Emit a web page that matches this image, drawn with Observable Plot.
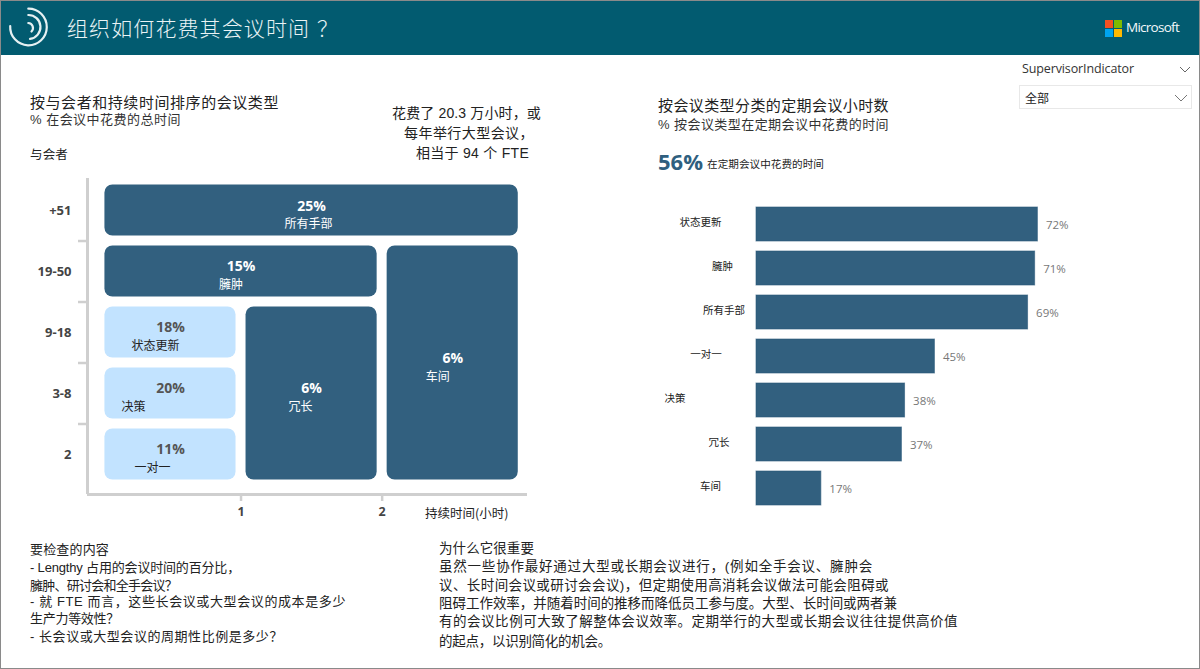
<!DOCTYPE html>
<html lang="zh">
<head>
<meta charset="utf-8">
<script src="https://cdn.jsdelivr.net/npm/d3@7"></script>
<script src="https://cdn.jsdelivr.net/npm/@observablehq/plot@0.6"></script>
<style>
  html, body { margin: 0; padding: 0; background: #fff; }
  #page { position: relative; width: 1200px; height: 669px; overflow: hidden; background: #fff;
    font-family: "Liberation Sans", "Noto Sans CJK SC", sans-serif; color: #222; box-sizing: border-box; }
  .t { position: absolute; white-space: pre; line-height: 1; transform: translateY(-50%); }
  .t .q { font-family: "Noto Sans CJK TC", sans-serif; }
  #border { position: absolute; inset: 0; border: 1px solid #8a8a8a; box-sizing: border-box; pointer-events: none; }
  #header { position: absolute; left: 0; top: 0; width: 1200px; height: 55px; background: #025b70; }
  .ms { position: absolute; width: 8px; height: 8px; }
  #filter { position: absolute; left: 1019px; top: 85px; width: 173px; height: 24px; border: 1px solid #e8e8e8; box-sizing: border-box; }
</style>
</head>
<body>
<div id="page">
  <div id="header"></div>
  <div id="filter"></div>
  <div id="border"></div>
</div>
<script>
// ---------- data: meeting mosaic ----------
const cellTypes   = ["所有手部", "臃肿", "车间", "状态更新", "决策", "一对一", "冗长"];
const cellShare   = [25, 15, 6, 18, 20, 11, 6];
const cellDurFrom = [0, 0, 2, 0, 0, 0, 1];
const cellDurTo   = [3, 2, 3, 1, 1, 1, 2];
const cellRowFrom = [4, 3, 0, 2, 1, 0, 0];
const cellRowTo   = [5, 4, 4, 3, 2, 1, 3];
const cellLight   = [false, false, false, true, true, true, false];
const rowLabels   = ["2", "3-8", "9-18", "19-50", "+51"];
const durationTicks = [1, 2];

// ---------- data: regular meetings ----------
const barTypes = ["状态更新", "臃肿", "所有手部", "一对一", "决策", "冗长", "车间"];
const barShare = [71.6, 70.9, 69.1, 45.4, 37.8, 37, 16.5];

// ---------- texts ----------
const titleText = "组织如何花费其会议时间？";
const calloutLines = ["花费了 20.3 万小时，或", "每年举行大型会议，", "相当于 94 个 FTE"];
const checkLines = ["要检查的内容", "- Lengthy 占用的会议时间的百分比，", "臃肿、研讨会和全手会议？",
  "- 就 FTE 而言，这些长会议或大型会议的成本是多少", "生产力等效性？", "- 长会议或大型会议的周期性比例是多少？"];
const whyLines = ["为什么它很重要", "虽然一些协作最好通过大型或长期会议进行，(例如全手会议、臃肿会",
  "议、长时间会议或研讨会会议)，但定期使用高消耗会议做法可能会阻碍或",
  "阻碍工作效率，并随着时间的推移而降低员工参与度。大型、长时间或两者兼",
  "有的会议比例可大致了解整体会议效率。定期举行的大型或长期会议往往提供高价值",
  "的起点，以识别简化的机会。"];

// ---------- layout only (pixel nudges reproducing the reference's off-centre labels) ----------
const cellLabelNudge = [-3, -10, -15, -15, -37, -18, -11];
const barLabelNudge  = [-56, -34, -32.5, -50.5, -81.5, -37.5, -46];

const page = document.getElementById("page");
const FONT = '"Open Sans", "Noto Sans CJK SC", sans-serif';
const CJK = '"Noto Sans CJK SC", sans-serif';
function put(text, x, y, css = {}, right) {
  const d = document.createElement("div");
  d.className = "t";
  d.innerHTML = text.replace("？", '<span class="q">？</span>');
  d.style.left = x + "px";
  d.style.top = y + "px";
  Object.assign(d.style, css);
  page.appendChild(d);
  if (right !== undefined) {
    // spread the line so that it ends where the reference's line ends
    const w = d.getBoundingClientRect().width;
    const n = Array.from(text).length;
    d.style.letterSpacing = ((right - x - w) / n + parseFloat(css.letterSpacing || 0)) + "px";
  }
  return d;
}
function place(el, left, top) {
  el.style.position = "absolute"; el.style.left = left + "px"; el.style.top = top + "px";
  page.appendChild(el);
}

// ---------- header ----------
const titleEl = put(titleText, 67, 27, {fontSize: "21px", letterSpacing: "1.1px", color: "#eaf3f5", fontFamily: CJK, fontWeight: 300});
titleEl.querySelector(".q").style.marginLeft = "7px";
put("Microsoft", 1126, 28, {fontSize: "13.5px", color: "#f4f8fa", fontFamily: FONT}, 1179);
[["#f25022",1105,20],["#7fba00",1114,20],["#00a4ef",1105,29],["#ffb900",1114,29]].forEach(([c,l,t]) => {
  const s = document.createElement("div"); s.className = "ms";
  s.style.background = c; s.style.left = l + "px"; s.style.top = t + "px"; page.appendChild(s);
});
const ns = "http://www.w3.org/2000/svg";
const logo = document.createElementNS(ns, "svg");
logo.setAttribute("width", 50); logo.setAttribute("height", 50);
logo.style.cssText = "position:absolute;left:5px;top:3px";
logo.innerHTML = `<g fill="none" stroke="#e6f0f2" stroke-width="2.2" stroke-linecap="round">
  <path d="M5.2 23 A18.3 18.3 0 1 0 23.3 5.7"/>
  <path d="M23.3 12 A12 12 0 0 1 25 35.9"/>
  <path d="M23.3 20 A5 5 0 0 1 26.5 28.5"/></g>`;
page.appendChild(logo);

// ---------- slicer ----------
put("SupervisorIndicator", 1022, 69, {fontSize: "12.5px", color: "#333", fontFamily: FONT}, 1134);
put("全部", 1025, 98, {fontSize: "12px", color: "#222", fontFamily: CJK});
const chev = document.createElementNS(ns, "svg");
chev.setAttribute("width", 200); chev.setAttribute("height", 60);
chev.style.cssText = "position:absolute;left:1000px;top:60px";
chev.innerHTML = `<path d="M180 7 L185 12 L190 7" fill="none" stroke="#666"/><path d="M175 35 L181 41 L187 35" fill="none" stroke="#777"/>`;
page.appendChild(chev);

// ---------- headings ----------
put("按与会者和持续时间排序的会议类型", 30, 101, {fontSize: "15px", fontFamily: CJK, color: "#222"}, 279);
put("% 在会议中花费的总时间", 30, 119, {fontSize: "13px", color: "#333"}, 181);
put("与会者", 30, 154, {fontSize: "12.5px", color: "#222", fontFamily: CJK}, 68);
const calloutX = [392, 404, 416], calloutR = [541, 534, 529];
calloutLines.forEach((l, i) => put(l, calloutX[i], 113 + 20 * i, {fontSize: "14px", color: "#222"}, calloutR[i]));
put("按会议类型分类的定期会议小时数", 658, 104, {fontSize: "15px", fontFamily: CJK, color: "#222"}, 889);
put("% 按会议类型在定期会议中花费的时间", 658, 124, {fontSize: "13px", color: "#333"}, 889);
put("56%", 658, 161, {fontSize: "22px", fontWeight: 700, color: "#2f5f7f", fontFamily: FONT});
put("在定期会议中花费的时间", 707, 164, {fontSize: "10.6px", fontFamily: CJK, color: "#222"}, 824);

// ---------- bottom notes ----------
const checkY = [549, 567, 585, 601, 618, 636], checkR = [109, 240, 177, 346, 119, 283];
checkLines.forEach((l, i) => put(l, 30, checkY[i], {fontSize: "13px", color: "#222"}, checkR[i]));
const whyY = [549, 567, 586, 604, 622, 642], whyR = [534, 873, 889, 897, 958, 611];
whyLines.forEach((l, i) => put(l, 439, whyY[i], {fontSize: "13.5px", color: "#222"}, whyR[i]));

// ---------- mosaic ----------
const cells = cellTypes.map((type, i) => ({
  type, share: cellShare[i], x1: cellDurFrom[i], x2: cellDurTo[i], y1: cellRowFrom[i], y2: cellRowTo[i],
  light: cellLight[i], cx: (cellDurFrom[i] + cellDurTo[i]) / 2, cy: (cellRowFrom[i] + cellRowTo[i]) / 2
}));
const xMin = -0.088, yMin = -0.156, yMax = 5.025, xMax = 3.03;
const mosaic = Plot.plot({
  width: 540, height: 360,
  marginLeft: 87, marginRight: 13, marginTop: 8, marginBottom: 36,
  x: {domain: [xMin, xMax]},
  y: {domain: [yMin, yMax]},
  style: {fontFamily: FONT, background: "transparent", overflow: "visible"},
  marks: [
    Plot.ruleX([xMin], {stroke: "#cfcfcf", strokeWidth: 3}),
    Plot.ruleY([yMin], {stroke: "#cfcfcf", strokeWidth: 3}),
    Plot.axisX({ticks: durationTicks, tickSize: 7, stroke: "#cfcfcf", strokeWidth: 2.5, fill: "#444",
      fontSize: 12.5, fontWeight: 700, tickPadding: 6, label: null, tickFormat: d3.format("d")}),
    Plot.axisY({ticks: [1, 2, 3, 4], tickSize: 9, stroke: "#cfcfcf", strokeWidth: 2.5, tickFormat: () => "", label: null}),
    Plot.axisY({ticks: [0.5, 1.5, 2.5, 3.5, 4.5], tickSize: 0, tickPadding: 16, fill: "#444", fontSize: 13, fontWeight: 700,
      label: null, tickFormat: d => rowLabels[Math.floor(d)]}),
    Plot.text(["持续时间(小时)"], {x: 2.6, y: yMin, dy: 19, text: d => d, fontSize: 12.5, fill: "#222", fontFamily: CJK}),
    Plot.rect(cells, {x1: "x1", x2: "x2", y1: "y1", y2: "y2", inset: 5, r: 8,
      fill: d => d.light ? "#c2e3ff" : "#32607f"}),
    Plot.text(cells, {x: "cx", y: "cy", dy: -4.5, text: d => d.share + "%", fontSize: 14, fontWeight: 700,
      fill: d => d.light ? "#555" : "#fff"}),
    ...cells.map((c, i) => Plot.text([c], {x: "cx", y: "cy", dy: 14, dx: cellLabelNudge[i], text: "type", fontSize: 12,
      fontFamily: CJK, fill: c.light ? "#222" : "#fff"}))
  ]
});
place(mosaic, 0, 170);

// ---------- bars ----------
const bars = barTypes.map((type, i) => ({type, share: barShare[i]}));
const barChart = Plot.plot({
  width: 460, height: 340,
  marginLeft: 106, marginRight: 0, marginTop: 6, marginBottom: 13.5,
  x: {domain: [0, 354 / 3.93]},
  y: {domain: barTypes, padding: 0.224, align: 0.5},
  axis: null,
  style: {fontFamily: FONT, background: "transparent", overflow: "visible"},
  marks: [
    Plot.barX(bars, {x: "share", y: "type", fill: "#32607f", stroke: "#2a587a", strokeOpacity: 0.6}),
    Plot.text(bars, {x: "share", y: "type", dx: 8, dy: 1, textAnchor: "start", fill: "#777", fontSize: 11.5,
      text: d => Math.round(d.share) + "%"}),
    ...bars.map((b, i) => Plot.text([b], {x: 0, y: "type", dx: barLabelNudge[i], dy: -1.5, text: "type", fontSize: 10.5,
      fontFamily: CJK, fill: "#222"}))
  ]
});
place(barChart, 650, 190);
</script>
</body>
</html>
